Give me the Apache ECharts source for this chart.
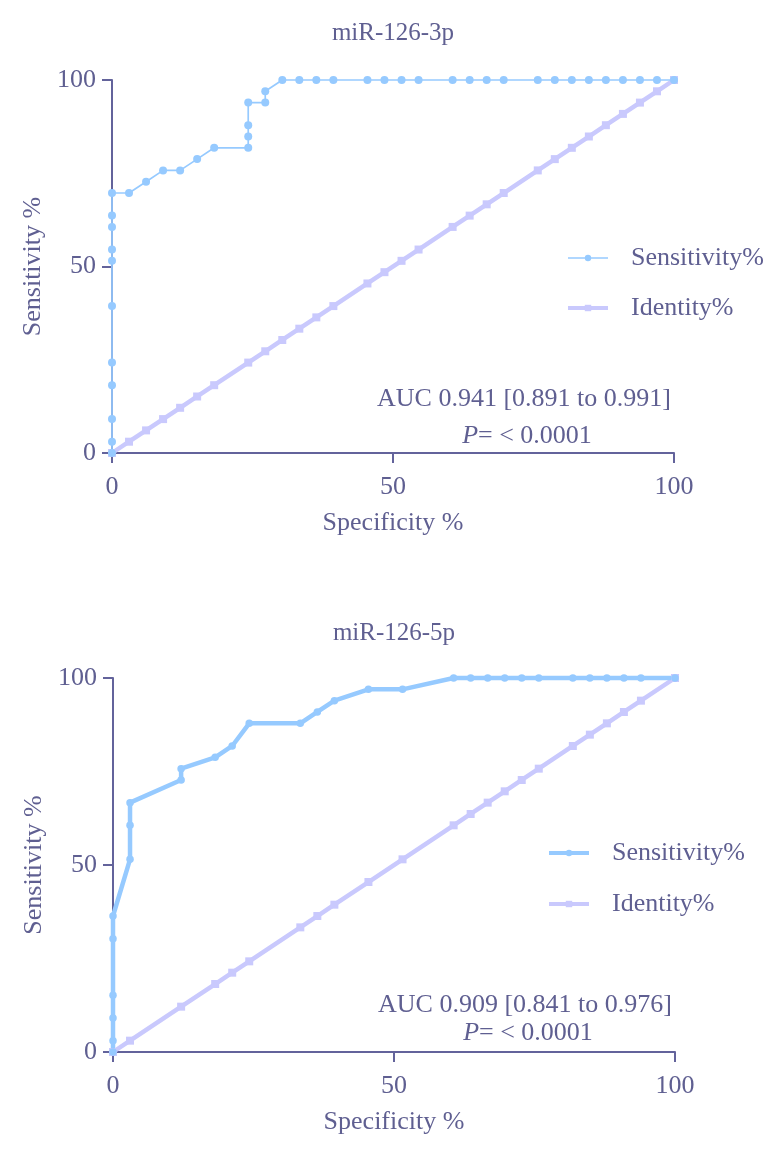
<!DOCTYPE html>
<html>
<head>
<meta charset="utf-8">
<script src="https://cdn.jsdelivr.net/npm/echarts@6/dist/echarts.min.js"></script>
<style>
html,body{margin:0;padding:0;background:#fff;}
#c{width:769px;height:1150px;}
</style>
</head>
<body>
<div id="c"></div>
<script>
// ---- Text ----
var titles = ['miR-126-3p', 'miR-126-5p'];
var aucTexts = ['AUC 0.941 [0.891 to 0.991]', 'AUC 0.909 [0.841 to 0.976]'];
var pTexts = ['< 0.0001', '< 0.0001'];
var legendNames = ['Sensitivity%', 'Identity%'];
var xTicks = [0, 50, 100];
var yTicks = [0, 50, 100];

// ---- Data: miR-126-3p ----
var spec1 = [0, 0, 0, 0, 0, 0, 0, 0, 0, 0, 0, 3.03, 6.06, 9.09, 12.12, 15.15, 18.18, 24.24, 24.24, 24.24, 24.24, 27.27, 27.27, 30.30, 33.33, 36.36, 39.39, 45.45, 48.48, 51.52, 54.55, 60.61, 63.64, 66.67, 69.70, 75.76, 78.79, 81.82, 84.85, 87.88, 90.91, 93.94, 96.97, 100];
var sens1 = [0, 3.03, 9.09, 18.18, 24.24, 39.39, 51.52, 54.55, 60.61, 63.64, 69.70, 69.70, 72.73, 75.76, 75.76, 78.79, 81.82, 81.82, 84.85, 87.88, 93.94, 93.94, 96.97, 100, 100, 100, 100, 100, 100, 100, 100, 100, 100, 100, 100, 100, 100, 100, 100, 100, 100, 100, 100, 100];
var identSpec1 = [0, 3.03, 6.06, 9.09, 12.12, 15.15, 18.18, 24.24, 27.27, 30.30, 33.33, 36.36, 39.39, 45.45, 48.48, 51.52, 54.55, 60.61, 63.64, 66.67, 69.70, 75.76, 78.79, 81.82, 84.85, 87.88, 90.91, 93.94, 96.97, 100];
var identSens1 = [0, 3.03, 6.06, 9.09, 12.12, 15.15, 18.18, 24.24, 27.27, 30.30, 33.33, 36.36, 39.39, 45.45, 48.48, 51.52, 54.55, 60.61, 63.64, 66.67, 69.70, 75.76, 78.79, 81.82, 84.85, 87.88, 90.91, 93.94, 96.97, 100];

// ---- Data: miR-126-5p ----
var spec2 = [0, 0, 0, 0, 0, 0, 3.03, 3.03, 3.03, 12.12, 12.12, 18.18, 21.21, 24.24, 33.33, 36.36, 39.39, 45.45, 51.52, 60.61, 63.64, 66.67, 69.70, 72.73, 75.76, 81.82, 84.85, 87.88, 90.91, 93.94, 100];
var sens2 = [0, 3.03, 9.09, 15.15, 30.30, 36.36, 51.52, 60.61, 66.67, 72.73, 75.76, 78.79, 81.82, 87.88, 87.88, 90.91, 93.94, 96.97, 96.97, 100, 100, 100, 100, 100, 100, 100, 100, 100, 100, 100, 100];
var identSpec2 = [0, 3.03, 12.12, 18.18, 21.21, 24.24, 33.33, 36.36, 39.39, 45.45, 51.52, 60.61, 63.64, 66.67, 69.70, 72.73, 75.76, 81.82, 84.85, 87.88, 90.91, 93.94, 100];
var identSens2 = [0, 3.03, 12.12, 18.18, 21.21, 24.24, 33.33, 36.36, 39.39, 45.45, 51.52, 60.61, 63.64, 66.67, 69.70, 72.73, 75.76, 81.82, 84.85, 87.88, 90.91, 93.94, 100];

function pairs(xs, ys) { return xs.map(function (x, i) { return [x, ys[i]]; }); }

var FONT = '"Liberation Serif", "Times New Roman", serif';
var AXIS = '#63639b';
var TXT = '#5f5f91';
var BLUE = '#96caff';
var LAV = '#c9c9fd';

var grids = [
  { left: 112, top: 80, width: 562, height: 373 },
  { left: 113, top: 678, width: 562, height: 374 }
];

function xAx(i) {
  return {
    gridIndex: i, type: 'value', min: xTicks[0], max: xTicks[xTicks.length - 1], interval: 50,
    name: 'Specificity %', nameLocation: 'middle', nameGap: 57,
    nameTextStyle: { fontFamily: FONT, fontSize: 26, color: TXT },
    axisLine: { show: true, onZero: false, lineStyle: { color: AXIS, width: 2 } },
    axisTick: { show: true, length: 10, lineStyle: { color: AXIS, width: 2 } },
    axisLabel: { margin: 21, fontFamily: FONT, fontSize: 26, color: TXT },
    splitLine: { show: false }
  };
}
function yAx(i) {
  return {
    gridIndex: i, type: 'value', min: yTicks[0], max: yTicks[yTicks.length - 1], interval: 50,
    name: 'Sensitivity %', nameLocation: 'middle', nameGap: 64,
    nameTextStyle: { fontFamily: FONT, fontSize: 26, color: TXT },
    axisLine: { show: true, onZero: false, lineStyle: { color: AXIS, width: 2 } },
    axisTick: { show: true, length: 10, lineStyle: { color: AXIS, width: 2 } },
    axisLabel: { margin: 16, fontFamily: FONT, fontSize: 26, color: TXT },
    splitLine: { show: false }
  };
}

var nameMap = { s1: legendNames[0], i1: legendNames[1], s2: legendNames[0], i2: legendNames[1] };

function legendAt(left, top, items, gap) {
  return {
    left: left, top: top, orient: 'vertical', padding: 0,
    itemWidth: 40, itemHeight: 8, itemGap: gap,
    data: items,
    formatter: function (n) { return nameMap[n]; },
    textStyle: { fontFamily: FONT, fontSize: 26, lineHeight: 26, color: TXT, padding: [0, 0, 0, 18] }
  };
}

function txt(x, y, text, size, rich) {
  var st = { text: text, x: 0, y: 0, fontFamily: FONT, fontSize: size, fill: TXT, align: 'center', verticalAlign: 'middle' };
  if (rich) st.rich = rich;
  return { type: 'text', x: x, y: y, style: st, z: 100 };
}
var richP = {
  i: { fontStyle: 'italic', fontFamily: FONT, fontSize: 26, fill: TXT },
  n: { fontFamily: FONT, fontSize: 26, fill: TXT }
};

var option = {
  animation: false,
  backgroundColor: '#fff',
  grid: grids,
  xAxis: [xAx(0), xAx(1)],
  yAxis: [yAx(0), yAx(1)],
  legend: [
    legendAt(566, 245, [
      { name: 's1', lineStyle: { width: 1.7, color: BLUE } },
      { name: 'i1', lineStyle: { width: 4, color: LAV } }
    ], 24),
    legendAt(547, 840, [
      { name: 's2', lineStyle: { width: 4, color: BLUE } },
      { name: 'i2', lineStyle: { width: 4, color: LAV } }
    ], 25)
  ],
  graphic: [
    txt(393, 33, titles[0], 25),
    txt(394, 633, titles[1], 25),
    txt(524, 399, aucTexts[0], 26),
    txt(527, 436, '{i|P}{n|= ' + pTexts[0] + '}', 26, richP),
    txt(525, 1005, aucTexts[1], 26),
    txt(528, 1033, '{i|P}{n|= ' + pTexts[1] + '}', 26, richP)
  ],
  series: [
    { name: 'i1', type: 'line', xAxisIndex: 0, yAxisIndex: 0, data: pairs(identSpec1, identSens1),
      symbol: 'rect', symbolSize: 8, clip: false,
      lineStyle: { color: LAV, width: 4.5 }, itemStyle: { color: LAV } },
    { name: 's1', type: 'line', xAxisIndex: 0, yAxisIndex: 0, data: pairs(spec1, sens1),
      symbol: 'circle', symbolSize: 8, clip: false,
      lineStyle: { color: BLUE, width: 1.7 }, itemStyle: { color: BLUE } },
    { name: 'i2', type: 'line', xAxisIndex: 1, yAxisIndex: 1, data: pairs(identSpec2, identSens2),
      symbol: 'rect', symbolSize: 8, clip: false,
      lineStyle: { color: LAV, width: 4.5 }, itemStyle: { color: LAV } },
    { name: 's2', type: 'line', xAxisIndex: 1, yAxisIndex: 1, data: pairs(spec2, sens2),
      symbol: 'circle', symbolSize: 7.5, clip: false,
      lineStyle: { color: BLUE, width: 4.5 }, itemStyle: { color: BLUE } }
  ]
};

var chart = echarts.init(document.getElementById('c'), null, { renderer: 'canvas' });
chart.setOption(option);
</script>
</body>
</html>
